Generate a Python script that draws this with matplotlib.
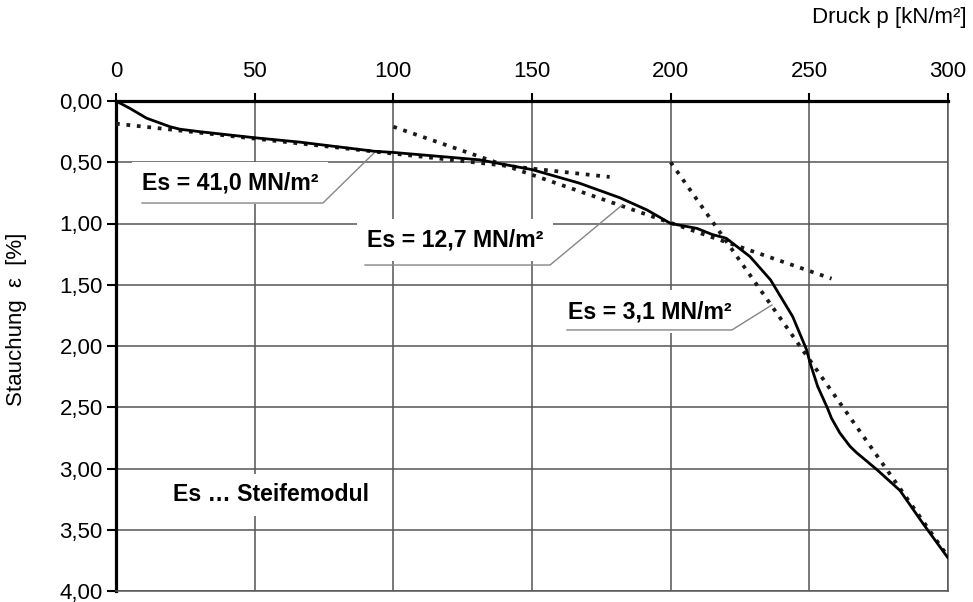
import matplotlib
matplotlib.use("Agg")
import matplotlib.pyplot as plt
from matplotlib.ticker import FixedLocator, FixedFormatter

plt.rcParams['font.family'] = ['Liberation Sans', 'DejaVu Sans']

# measured curve: pressure p [kN/m²] vs compression [%]
pressure = [0, 5, 11, 19.5, 23, 30, 50, 66, 93, 100, 131, 150, 167, 181.7, 191.5,
            200, 209.5, 215, 220, 228.6, 236, 244, 249, 250.3, 253, 256.4, 258, 261, 264.7, 267,
            274.4, 282.7, 291, 300]
strain = [0, 0.06, 0.14, 0.21, 0.23, 0.25, 0.30, 0.335, 0.41, 0.42, 0.48, 0.56, 0.67, 0.79, 0.89,
          1.00, 1.04, 1.09, 1.12, 1.27, 1.46, 1.76, 2.03, 2.14, 2.33, 2.50, 2.59, 2.71, 2.82, 2.87,
          3.01, 3.18, 3.45, 3.73]

# tangent lines (stiffness modulus)
t1_p = [0, 178]
t1_e = [0.185, 0.62]
t2_p = [100, 258]
t2_e = [0.21, 1.45]
t3_p = [200, 300]
t3_e = [0.50, 3.72]

x_ticks = [0, 50, 100, 150, 200, 250, 300]
x_labels = ['0', '50', '100', '150', '200', '250', '300']
y_ticks = [0, 0.5, 1.0, 1.5, 2.0, 2.5, 3.0, 3.5, 4.0]
y_labels = ['0,00', '0,50', '1,00', '1,50', '2,00', '2,50', '3,00', '3,50', '4,00']

labels = ['Es = 41,0 MN/m²', 'Es = 12,7 MN/m²', 'Es = 3,1 MN/m²', 'Es … Steifemodul']
label_p = [9.4, 90.5, 163, 20.6]
label_e = [0.669, 1.135, 1.72, 3.216]

lead1_p = [9.4, 74.6, 93.4]
lead1_e = [0.833, 0.833, 0.416]
lead2_p = [89.8, 156.5, 182.5]
lead2_e = [1.339, 1.339, 0.849]
lead3_p = [162.6, 222.1, 236.5]
lead3_e = [1.869, 1.869, 1.665]

fig = plt.figure(figsize=(9.73, 6.02), dpi=100)
ax = fig.add_axes([116/973, 1 - 591/602, (948-116)/973, (591-101)/602])

ax.set_xlim(0, 300)
ax.set_ylim(4, 0)
ax.set_axisbelow(True)

ax.xaxis.tick_top()
ax.xaxis.set_major_locator(FixedLocator(x_ticks))
ax.xaxis.set_major_formatter(FixedFormatter(x_labels))
ax.yaxis.set_major_locator(FixedLocator(y_ticks))
ax.yaxis.set_major_formatter(FixedFormatter(y_labels))
ax.tick_params(axis='x', which='major', direction='out', length=6, width=1.5,
               pad=8, labelsize=16, color='black')
ax.tick_params(axis='y', which='major', direction='out', length=6.5, width=1.5,
               pad=3, labelsize=16, color='black')

ax.grid(True, color='#555555', linewidth=1.1)

for s in ['top', 'left']:
    ax.spines[s].set_linewidth(2.3)
    ax.spines[s].set_color('black')
for s in ['right', 'bottom']:
    ax.spines[s].set_linewidth(1.1)
    ax.spines[s].set_color('#555555')

dot = (0, (1, 1.8))
for tp, te in [(t1_p, t1_e), (t2_p, t2_e), (t3_p, t3_e)]:
    ax.plot(tp, te, color='#1a1a1a', linewidth=2.7, linestyle=dot, zorder=4)

ax.plot(pressure, strain, color='black', linewidth=2.0, zorder=5,
        solid_joinstyle='round', solid_capstyle='round')

for t, px, py in zip(labels, label_p, label_e):
    ax.text(px, py, t, fontsize=16.7, fontweight='bold', ha='left', va='center',
            zorder=3, bbox=dict(boxstyle='square,pad=0.42', fc='white', ec='none'))

for lp, le in [(lead1_p, lead1_e), (lead2_p, lead2_e), (lead3_p, lead3_e)]:
    ax.plot(lp, le, color='#858585', linewidth=1.0, zorder=4)

fig.text(967/973, 1 - 18/602, 'Druck p [kN/m²]', fontsize=16, ha='right', va='center')
fig.text(17/973, 1 - 319/602, 'Stauchung  ε  [%]', fontsize=16, rotation=90,
         ha='center', va='center')

fig.savefig('out.png', dpi=100)
